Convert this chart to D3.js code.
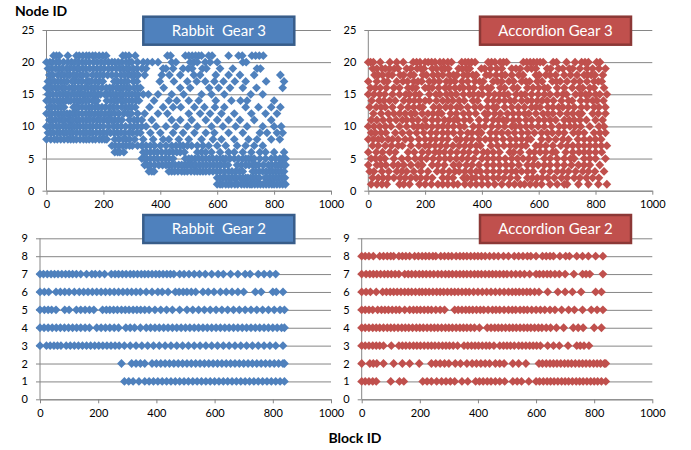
<!DOCTYPE html>
<html>
<head>
<meta charset="utf-8">
<script src="https://cdn.jsdelivr.net/npm/d3@7/dist/d3.min.js"></script>
<style>
body { margin: 0; background: #fff; }
svg { font-family: Lato, "Open Sans", sans-serif; }
</style>
</head>
<body>
<div id="chart"></div>
<script>
// tick labels
var xTicks = [0, 200, 400, 600, 800, 1000];
var gear3Ticks = [0, 5, 10, 15, 20, 25];
var gear2Ticks = [0, 1, 2, 3, 4, 5, 6, 7, 8, 9];

// Rabbit Gear 3: one list of block IDs per node ID
var rabbit3Nodes = [21, 20, 19, 18, 17, 16, 15, 14, 13, 12, 11, 10, 9, 8, 7, 6, 5, 4, 3, 2, 1];
var rabbit3Blocks = [
  [25, 35, 45, 75, 105, 115, 128, 140, 150, 162, 172, 185, 198, 210, 268, 278, 290, 312, 425, 436, 488, 500, 512, 524, 535, 545, 570, 582, 640, 675, 688, 722, 735, 748, 762],
  [0, 12, 22, 35, 45, 60, 75, 88, 100, 112, 125, 138, 150, 165, 178, 192, 205, 218, 230, 240, 252, 265, 280, 292, 300, 320, 340, 355, 372, 392, 440, 455, 505, 518, 530, 558, 575, 600, 690, 702],
  [5, 18, 32, 45, 55, 70, 82, 95, 108, 115, 128, 138, 152, 165, 178, 190, 202, 218, 230, 245, 258, 270, 282, 290, 305, 318, 335, 350, 410, 420, 445, 480, 498, 512, 548, 562, 610, 655, 740, 752],
  [10, 22, 40, 52, 62, 75, 82, 95, 105, 118, 128, 142, 162, 175, 188, 200, 215, 230, 245, 262, 275, 288, 298, 310, 322, 345, 405, 432, 470, 518, 540, 595, 640, 680, 730, 822],
  [5, 15, 28, 40, 50, 62, 72, 90, 100, 112, 125, 140, 150, 158, 172, 185, 198, 238, 250, 262, 275, 285, 305, 318, 398, 448, 495, 528, 558, 590, 622, 662, 700, 772, 835],
  [0, 10, 20, 32, 42, 55, 65, 80, 92, 100, 112, 122, 135, 145, 158, 168, 180, 195, 210, 222, 232, 245, 252, 262, 270, 282, 292, 308, 320, 330, 412, 470, 505, 572, 605, 645, 690, 738, 830],
  [5, 12, 22, 35, 48, 58, 68, 75, 88, 98, 108, 118, 128, 135, 145, 155, 165, 172, 182, 190, 205, 215, 225, 235, 245, 258, 268, 280, 290, 300, 312, 322, 340, 358, 392, 440, 482, 545, 580, 625, 718, 760],
  [0, 12, 25, 38, 48, 58, 68, 78, 85, 98, 108, 118, 128, 138, 148, 162, 170, 178, 212, 228, 240, 250, 262, 270, 278, 290, 302, 315, 325, 378, 430, 458, 500, 535, 595, 650, 682, 705, 800],
  [8, 18, 30, 42, 52, 62, 95, 105, 112, 125, 138, 150, 160, 172, 182, 195, 208, 222, 235, 248, 265, 278, 290, 300, 312, 362, 410, 445, 472, 520, 555, 592, 625, 700, 745, 790, 822],
  [0, 10, 18, 30, 40, 52, 62, 72, 82, 92, 100, 112, 125, 138, 148, 158, 170, 182, 192, 205, 218, 228, 240, 255, 272, 285, 298, 320, 345, 392, 425, 500, 540, 575, 615, 660, 720, 770, 810],
  [10, 20, 32, 45, 55, 65, 78, 85, 92, 105, 115, 128, 140, 152, 165, 178, 188, 200, 212, 220, 228, 240, 252, 265, 292, 308, 320, 335, 370, 440, 470, 510, 560, 600, 640, 680, 730, 790],
  [0, 12, 22, 35, 45, 58, 68, 78, 88, 98, 108, 118, 130, 140, 152, 162, 175, 188, 200, 218, 235, 248, 262, 278, 295, 308, 320, 335, 350, 385, 420, 455, 495, 530, 580, 620, 665, 705, 760, 800, 825],
  [5, 15, 25, 38, 48, 60, 70, 82, 92, 105, 118, 130, 140, 152, 162, 175, 188, 200, 212, 225, 238, 250, 262, 275, 290, 302, 318, 330, 365, 400, 445, 480, 520, 560, 590, 640, 690, 750, 775, 810, 830],
  [0, 15, 28, 38, 50, 62, 75, 85, 95, 105, 118, 130, 140, 150, 162, 172, 185, 195, 205, 212, 240, 255, 270, 280, 292, 310, 340, 375, 410, 430, 465, 500, 545, 585, 615, 660, 710, 740, 790, 820],
  [230, 242, 255, 268, 280, 292, 302, 320, 335, 350, 365, 380, 400, 420, 440, 455, 470, 480, 495, 510, 530, 550, 570, 600, 630, 670, 700, 730, 760],
  [240, 250, 258, 272, 340, 352, 365, 378, 390, 405, 420, 432, 445, 458, 470, 485, 530, 545, 560, 580, 610, 640, 660, 690, 720, 750, 770, 800, 835],
  [335, 345, 352, 365, 378, 390, 405, 418, 430, 445, 488, 500, 510, 522, 535, 548, 560, 572, 585, 598, 610, 620, 630, 645, 660, 675, 690, 700, 710, 720, 730, 750, 770, 790, 805, 820, 830, 840],
  [345, 355, 365, 380, 395, 408, 420, 430, 440, 452, 465, 475, 485, 495, 505, 515, 525, 538, 550, 562, 575, 588, 600, 612, 625, 638, 670, 685, 700, 712, 725, 735, 745, 762, 780, 792, 805, 815, 825, 835, 840],
  [360, 370, 378, 430, 440, 450, 462, 475, 485, 495, 508, 520, 530, 540, 550, 560, 572, 585, 598, 610, 625, 640, 652, 665, 678, 690, 725, 735, 748, 760, 772, 785, 795, 805, 815, 825, 835],
  [600, 610, 620, 630, 640, 650, 660, 668, 680, 690, 700, 708, 718, 728, 738, 748, 768, 778, 788, 798, 808, 818, 828, 838],
  [600, 610, 618, 630, 640, 650, 662, 672, 685, 695, 705, 715, 722, 732, 742, 752, 762, 772, 782, 792, 800, 810, 820, 830, 840]
];

// Accordion Gear 3
var accordion3Nodes = [20, 19, 18, 17, 16, 15, 14, 13, 12, 11, 10, 9, 8, 7, 6, 5, 4, 3, 2, 1];
var accordion3Blocks = [
  [0, 8, 18, 42, 76, 100, 123, 158, 170, 182, 200, 211, 223, 235, 252, 265, 280, 293, 329, 341, 352, 364, 376, 422, 434, 446, 464, 476, 487, 546, 558, 570, 582, 594, 605, 616, 651, 663, 698, 728, 751, 763, 775, 804, 816],
  [15, 30, 48, 60, 75, 92, 105, 135, 150, 172, 185, 196, 225, 240, 258, 270, 282, 318, 330, 345, 357, 398, 410, 430, 452, 470, 505, 520, 535, 560, 575, 590, 630, 642, 670, 685, 708, 720, 745, 770, 790, 812, 835],
  [22, 35, 50, 70, 84, 112, 125, 148, 160, 192, 205, 228, 245, 262, 285, 300, 312, 336, 350, 368, 380, 415, 428, 450, 470, 482, 505, 530, 545, 590, 602, 625, 640, 660, 690, 712, 735, 760, 772, 785, 798, 826],
  [0, 30, 55, 68, 100, 122, 138, 160, 175, 188, 215, 232, 250, 275, 290, 305, 330, 350, 375, 392, 405, 440, 455, 470, 495, 512, 540, 555, 568, 595, 612, 648, 662, 676, 700, 725, 745, 770, 795, 810, 822],
  [8, 25, 42, 64, 90, 110, 140, 155, 168, 200, 212, 225, 248, 270, 285, 305, 322, 335, 355, 372, 400, 420, 432, 465, 480, 510, 525, 560, 580, 600, 620, 632, 665, 690, 718, 742, 755, 780, 795, 830],
  [0, 20, 40, 58, 85, 110, 132, 145, 165, 180, 215, 238, 252, 275, 292, 310, 335, 356, 370, 388, 402, 425, 445, 462, 478, 492, 520, 538, 552, 575, 598, 620, 640, 665, 685, 698, 730, 748, 765, 778, 800, 815, 840],
  [12, 38, 55, 75, 95, 125, 145, 162, 180, 200, 215, 240, 262, 280, 298, 320, 338, 368, 385, 420, 440, 460, 480, 500, 515, 540, 560, 575, 595, 612, 630, 652, 680, 705, 718, 748, 770, 790, 805, 828],
  [5, 28, 45, 60, 85, 115, 140, 160, 180, 192, 230, 250, 272, 290, 312, 325, 350, 375, 395, 420, 440, 452, 480, 505, 528, 550, 575, 590, 605, 632, 650, 670, 685, 705, 725, 750, 770, 795, 812, 835],
  [18, 45, 70, 90, 110, 130, 150, 165, 190, 210, 228, 245, 258, 290, 310, 335, 355, 378, 410, 422, 445, 465, 490, 510, 530, 550, 565, 590, 615, 632, 650, 675, 700, 720, 740, 752, 790, 810, 835],
  [10, 30, 52, 75, 98, 120, 135, 155, 175, 200, 225, 245, 268, 285, 302, 315, 338, 358, 390, 415, 440, 458, 475, 488, 510, 530, 555, 575, 600, 620, 640, 660, 690, 708, 725, 745, 768, 800, 825],
  [0, 20, 40, 60, 80, 110, 135, 160, 175, 190, 205, 225, 245, 262, 280, 300, 322, 338, 370, 390, 410, 435, 458, 480, 505, 518, 535, 555, 575, 598, 620, 645, 672, 690, 710, 728, 748, 780, 812, 830],
  [10, 25, 45, 62, 95, 120, 145, 170, 195, 220, 240, 262, 280, 300, 325, 350, 365, 385, 398, 430, 450, 470, 492, 515, 540, 562, 585, 610, 630, 648, 670, 690, 722, 740, 760, 795, 815, 835],
  [0, 18, 35, 48, 70, 85, 105, 130, 150, 178, 200, 220, 238, 260, 280, 310, 325, 345, 365, 390, 412, 430, 450, 475, 500, 520, 540, 560, 572, 610, 635, 660, 685, 705, 738, 760, 780, 800, 820],
  [15, 35, 60, 82, 105, 120, 150, 178, 200, 215, 235, 255, 275, 298, 320, 340, 360, 380, 395, 432, 455, 478, 500, 520, 540, 555, 590, 605, 625, 650, 678, 700, 720, 740, 760, 780, 800, 820, 840],
  [0, 28, 50, 75, 95, 140, 162, 190, 212, 235, 250, 268, 290, 312, 335, 355, 380, 405, 420, 440, 462, 498, 512, 535, 568, 585, 605, 625, 648, 660, 695, 720, 742, 760, 778, 800, 822],
  [10, 25, 42, 58, 90, 118, 140, 165, 185, 205, 228, 250, 270, 288, 310, 330, 350, 372, 400, 420, 440, 460, 482, 505, 525, 545, 565, 585, 620, 640, 665, 690, 712, 725, 760, 780, 800, 835],
  [0, 30, 45, 62, 88, 105, 125, 150, 175, 190, 225, 245, 268, 300, 320, 345, 365, 390, 418, 440, 462, 485, 505, 530, 560, 580, 598, 620, 640, 665, 690, 715, 740, 760, 780, 815],
  [5, 20, 48, 72, 100, 118, 135, 160, 185, 210, 242, 262, 285, 305, 320, 340, 360, 380, 395, 418, 440, 462, 485, 505, 520, 540, 560, 580, 615, 640, 665, 685, 705, 730, 755, 775, 798, 830],
  [15, 35, 52, 70, 90, 112, 130, 150, 168, 185, 205, 225, 262, 280, 298, 335, 348, 365, 378, 400, 418, 440, 458, 478, 500, 525, 560, 578, 595, 612, 632, 655, 680, 700, 725, 745, 768, 790, 812],
  [10, 30, 48, 65, 110, 125, 145, 180, 200, 222, 245, 262, 280, 300, 315, 340, 360, 380, 400, 422, 445, 470, 495, 515, 535, 550, 570, 590, 610, 640, 665, 690, 700, 740, 775, 810, 840]
];

// Rabbit Gear 2
var rabbit2Nodes = [7, 6, 5, 4, 3, 2, 1];
var rabbit2Blocks = [
  [0, 12, 25, 38, 50, 62, 75, 88, 100, 112, 125, 140, 160, 178, 190, 205, 222, 245, 258, 270, 283, 296, 310, 322, 335, 348, 360, 372, 385, 398, 410, 423, 436, 448, 460, 480, 495, 512, 530, 548, 568, 590, 612, 630, 655, 680, 705, 722, 750, 770, 790, 810],
  [0, 15, 30, 55, 70, 85, 100, 118, 135, 150, 165, 180, 195, 210, 225, 240, 255, 270, 285, 300, 315, 330, 345, 365, 385, 405, 420, 440, 465, 478, 492, 505, 520, 535, 560, 578, 598, 620, 640, 660, 680, 700, 740, 760, 800, 812, 835],
  [0, 15, 28, 40, 55, 85, 100, 125, 140, 155, 170, 185, 215, 228, 240, 253, 266, 280, 293, 306, 320, 333, 346, 360, 375, 395, 415, 435, 455, 480, 505, 525, 545, 565, 585, 605, 625, 645, 665, 685, 705, 725, 745, 765, 785, 805, 825, 840],
  [0, 14, 28, 42, 56, 70, 84, 98, 112, 126, 140, 155, 170, 195, 210, 225, 240, 255, 270, 295, 310, 325, 345, 365, 380, 395, 410, 425, 440, 455, 470, 485, 500, 515, 530, 545, 560, 575, 590, 605, 620, 635, 650, 665, 680, 695, 710, 725, 740, 755, 770, 785, 800, 815, 830, 840],
  [0, 22, 35, 48, 60, 72, 90, 104, 118, 132, 146, 160, 174, 188, 202, 216, 230, 244, 258, 272, 290, 310, 330, 350, 370, 390, 410, 430, 450, 470, 490, 510, 530, 550, 570, 590, 610, 630, 650, 670, 690, 710, 730, 750, 770, 790, 810, 835],
  [280, 315, 330, 345, 360, 385, 400, 415, 430, 445, 460, 475, 490, 505, 520, 535, 550, 565, 580, 595, 610, 625, 640, 655, 670, 685, 700, 715, 730, 745, 760, 775, 790, 805, 820, 835, 840],
  [290, 305, 320, 340, 360, 375, 390, 405, 420, 435, 450, 465, 480, 495, 510, 525, 540, 555, 570, 585, 600, 615, 630, 645, 660, 675, 690, 705, 720, 735, 750, 765, 780, 795, 810, 825, 840]
];

// Accordion Gear 2
var accordion2Nodes = [8, 7, 6, 5, 4, 3, 2, 1];
var accordion2Blocks = [
  [0, 12, 25, 40, 62, 75, 88, 100, 110, 128, 140, 152, 165, 182, 195, 208, 220, 232, 245, 255, 272, 285, 298, 310, 325, 338, 350, 362, 375, 388, 400, 412, 425, 440, 455, 470, 488, 505, 525, 540, 555, 570, 582, 600, 622, 635, 648, 660, 682, 702, 715, 740, 760, 780, 805, 830],
  [0, 15, 28, 40, 52, 65, 78, 90, 102, 115, 128, 148, 160, 172, 185, 198, 210, 222, 235, 248, 262, 275, 288, 300, 312, 325, 338, 350, 362, 375, 388, 400, 412, 425, 438, 450, 462, 475, 488, 500, 515, 530, 545, 560, 578, 600, 612, 625, 638, 650, 665, 680, 700, 730, 760, 772, 785, 830],
  [0, 15, 30, 50, 72, 85, 98, 110, 122, 135, 148, 160, 172, 185, 198, 208, 220, 232, 245, 258, 270, 282, 295, 308, 320, 332, 345, 358, 370, 385, 400, 415, 430, 445, 460, 475, 490, 505, 518, 530, 542, 555, 568, 580, 595, 610, 640, 675, 700, 725, 755, 805, 825],
  [0, 12, 25, 38, 55, 68, 80, 92, 105, 118, 130, 148, 165, 178, 190, 202, 215, 228, 240, 255, 270, 285, 320, 332, 345, 358, 370, 382, 395, 408, 420, 435, 450, 462, 475, 490, 505, 518, 530, 545, 558, 570, 585, 600, 615, 630, 648, 665, 688, 712, 732, 760, 790, 810, 830],
  [0, 12, 25, 38, 50, 62, 75, 88, 100, 112, 125, 138, 150, 162, 175, 188, 200, 212, 225, 238, 250, 262, 275, 288, 300, 312, 325, 338, 350, 362, 375, 388, 405, 432, 445, 458, 470, 482, 495, 508, 520, 532, 545, 558, 570, 582, 595, 608, 620, 635, 650, 670, 695, 728, 745, 762, 800, 825],
  [0, 12, 25, 38, 50, 62, 75, 102, 128, 140, 152, 165, 178, 190, 202, 215, 228, 240, 252, 265, 278, 290, 302, 315, 330, 352, 365, 378, 390, 402, 415, 428, 440, 455, 475, 488, 500, 512, 525, 540, 552, 565, 578, 590, 602, 615, 640, 660, 680, 710, 740, 752, 765, 782],
  [0, 28, 40, 52, 75, 110, 140, 165, 198, 240, 255, 270, 285, 300, 322, 340, 362, 380, 395, 410, 425, 440, 460, 475, 490, 520, 540, 565, 610, 622, 635, 648, 660, 672, 685, 698, 710, 722, 735, 748, 760, 772, 785, 798, 810, 822, 835, 840],
  [0, 12, 25, 38, 50, 100, 130, 145, 210, 225, 240, 258, 275, 290, 305, 320, 345, 365, 392, 405, 418, 432, 445, 460, 475, 492, 520, 535, 550, 575, 600, 612, 625, 638, 650, 662, 675, 688, 700, 712, 725, 738, 750, 762, 775, 788, 800, 812, 825, 840]
];

var blue = "#4F81BD", blueEdge = "#385D8A";
var red = "#C0504D", redEdge = "#8C3836";
var gridColor = "#868686";

var panels = [
  {title: "Rabbit  Gear 3", fill: blue, edge: blueEdge, nodes: rabbit3Nodes, blocks: rabbit3Blocks,
   xr: [46.5, 331], yr: [190.7, 30], ymax: 25, yticks: gear3Ticks, box: [143.3, 16.7]},
  {title: "Accordion Gear 3", fill: red, edge: redEdge, nodes: accordion3Nodes, blocks: accordion3Blocks,
   xr: [368.3, 652.3], yr: [190.7, 30], ymax: 25, yticks: gear3Ticks, box: [480, 16.7]},
  {title: "Rabbit  Gear 2", fill: blue, edge: blueEdge, nodes: rabbit2Nodes, blocks: rabbit2Blocks,
   xr: [40, 331], yr: [399.3, 238.3], ymax: 9, yticks: gear2Ticks, box: [143.3, 215]},
  {title: "Accordion Gear 2", fill: red, edge: redEdge, nodes: accordion2Nodes, blocks: accordion2Blocks,
   xr: [361.7, 652.3], yr: [399.3, 238.3], ymax: 9, yticks: gear2Ticks, box: [480, 215]}
];

var svg = d3.select("#chart").append("svg")
  .attr("width", 691)
  .attr("height", 450);

// excel style diamond marker
var diamond = "M0,-4.4L4.4,0L0,4.4L-4.4,0Z";

panels.forEach(function(p) {
  var x = d3.scaleLinear().domain([0, 1000]).range(p.xr);
  var y = d3.scaleLinear().domain([0, p.ymax]).range(p.yr);
  var g = svg.append("g");

  // horizontal gridlines + y labels
  var yAxis = g.append("g")
    .attr("transform", "translate(" + p.xr[0] + ",0)")
    .call(d3.axisLeft(y).tickValues(p.yticks).tickSize(4).tickPadding(8).tickFormat(d3.format("d")));
  yAxis.selectAll(".tick").append("line")
    .attr("x1", 0).attr("x2", p.xr[1] - p.xr[0])
    .attr("stroke", gridColor);
  yAxis.select(".domain").remove();
  yAxis.append("line")
    .attr("y1", p.yr[0]).attr("y2", p.yr[1])
    .attr("stroke", gridColor);

  var xAxis = g.append("g")
    .attr("transform", "translate(0," + p.yr[0] + ")")
    .call(d3.axisBottom(x).tickValues(xTicks).tickSize(4).tickPadding(6).tickSizeOuter(0).tickFormat(d3.format("d")));
  xAxis.select(".domain").attr("stroke", gridColor);

  g.selectAll(".tick line").attr("stroke", gridColor);
  g.selectAll(".tick text")
    .attr("fill", "#000")
    .attr("font-size", "11px")
    .attr("font-family", "Lato, sans-serif");

  // flatten node rows into points
  var pts = [];
  p.nodes.forEach(function(n, i) {
    p.blocks[i].forEach(function(b) { pts.push([b, n]); });
  });
  g.append("g").selectAll("path")
    .data(pts)
    .enter().append("path")
    .attr("d", diamond)
    .attr("transform", function(d) { return "translate(" + x(d[0]) + "," + y(d[1]) + ")"; })
    .attr("fill", p.fill);

  // title box
  g.append("rect")
    .attr("x", p.box[0]).attr("y", p.box[1])
    .attr("width", 151).attr("height", 28)
    .attr("fill", p.fill)
    .attr("stroke", p.edge)
    .attr("stroke-width", 2.5);
  g.append("text")
    .attr("x", p.box[0] + 75.5).attr("y", p.box[1] + 19)
    .attr("text-anchor", "middle")
    .attr("fill", "#fff")
    .attr("font-size", "15px")
    .style("white-space", "pre")
    .text(p.title);
});

svg.append("text")
  .attr("x", 15).attr("y", 16)
  .attr("font-size", "14px")
  .attr("font-weight", "bold")
  .text("Node ID");

svg.append("text")
  .attr("x", 355).attr("y", 443)
  .attr("text-anchor", "middle")
  .attr("font-size", "14px")
  .attr("font-weight", "bold")
  .text("Block ID");
</script>
</body>
</html>
